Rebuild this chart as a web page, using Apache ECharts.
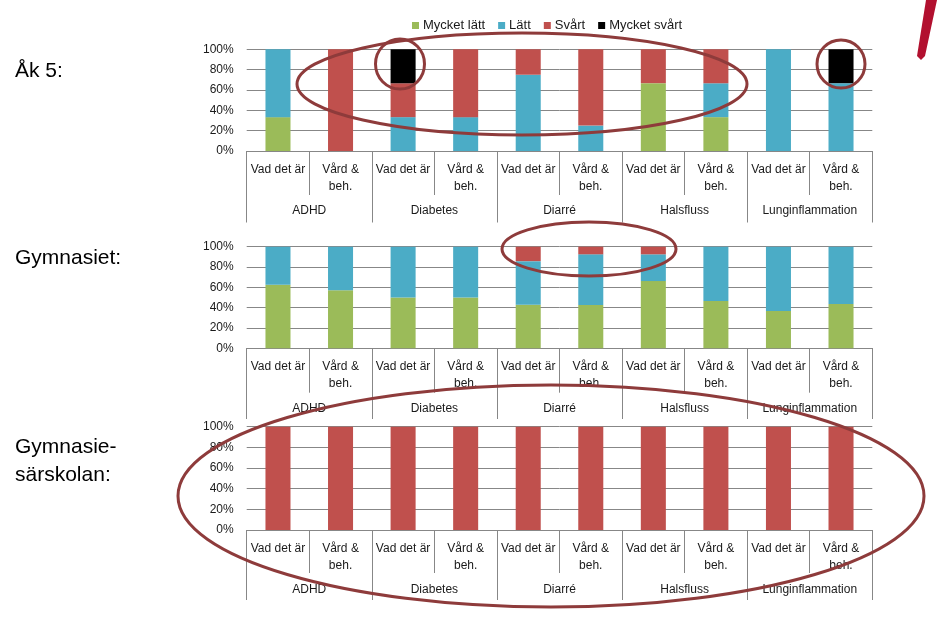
<!DOCTYPE html>
<html>
<head>
<meta charset="utf-8">
<script src="https://cdn.jsdelivr.net/npm/echarts@6/dist/echarts.min.js"></script>
<style>
html,body{margin:0;padding:0;background:#fff;}
#chart{width:940px;height:622px;}
</style>
</head>
<body>
<div id="chart"></div>
<script>
// ---- Data ----
const subCategories = ['Vad det är','Vård &\nbeh.','Vad det är','Vård &\nbeh.','Vad det är','Vård &\nbeh.','Vad det är','Vård &\nbeh.','Vad det är','Vård &\nbeh.'];
const groups = ['ADHD','Diabetes','Diarré','Halsfluss','Lunginflammation'];
const seriesNames = ['Mycket lätt','Lätt','Svårt','Mycket svårt'];
const yTicks = [0,20,40,60,80,100];

// Åk 5
const ak5MycketLatt  = [33.3, 0,    0,    0,    0,  0,  66.7, 33.3, 0,   0];
const ak5Latt        = [66.7, 0,    33.3, 33.3, 75, 25, 0,    33.3, 100, 66.7];
const ak5Svart       = [0,    100,  33.3, 66.7, 25, 75, 33.3, 33.4, 0,   0];
const ak5MycketSvart = [0,    0,    33.4, 0,    0,  0,  0,    0,    0,   33.3];

// Gymnasiet
const gymMycketLatt  = [62.5, 57.1, 50, 50, 42.9, 42.6, 66.2, 46.6, 36.7, 43.6];
const gymLatt        = [37.5, 42.9, 50, 50, 42.9, 49.9, 26.3, 53.4, 63.3, 56.4];
const gymSvart       = [0,    0,    0,  0,  14.2, 7.5,  7.5,  0,    0,    0];
const gymMycketSvart = [0,    0,    0,  0,  0,    0,    0,    0,    0,    0];

// Gymnasiesärskolan
const sarMycketLatt  = [0,0,0,0,0,0,0,0,0,0];
const sarLatt        = [0,0,0,0,0,0,0,0,0,0];
const sarSvart       = [100,100,100,100,100,100,100,100,100,100];
const sarMycketSvart = [0,0,0,0,0,0,0,0,0,0];

const panels = [
  {label:['Åk 5:'], data:[ak5MycketLatt, ak5Latt, ak5Svart, ak5MycketSvart]},
  {label:['Gymnasiet:'], data:[gymMycketLatt, gymLatt, gymSvart, gymMycketSvart]},
  {label:['Gymnasie-','särskolan:'], data:[sarMycketLatt, sarLatt, sarSvart, sarMycketSvart]}
];

// ---- Styling / layout ----
const colors = ['#9BBB59','#4BACC6','#C0504D','#000000'];
const gridGray = '#878787';
const textColor = '#1a1a1a';
const font = '"Liberation Sans", Arial, sans-serif';
const gridBoxes = [
  {top:49.3, height:101.7, subTick:44, groupTick:71.5},
  {top:246.7, height:101.6, subTick:44.4, groupTick:70.7},
  {top:426.7, height:103.3, subTick:43, groupTick:70}
];

const grids = [], xAxes = [], yAxes = [], series = [];
gridBoxes.forEach((g, i) => {
  grids.push({left:246.7, right:67.7, top:g.top, height:g.height, containLabel:false});
  xAxes.push({
    type:'category', gridIndex:i, position:'bottom', data:subCategories,
    boundaryGap:true,
    axisLine:{show:true, lineStyle:{color:gridGray, width:1}},
    axisTick:{show:true, length:g.subTick, interval:0, lineStyle:{color:gridGray, width:1}},
    axisLabel:{interval:0, margin:10, color:textColor, fontFamily:font, fontSize:12, lineHeight:17}
  });
  xAxes.push({
    type:'category', gridIndex:i, position:'bottom', data:groups,
    boundaryGap:true,
    axisLine:{show:false},
    axisTick:{show:true, length:g.groupTick, interval:0, lineStyle:{color:gridGray, width:1}},
    axisLabel:{interval:0, margin:54, color:textColor, fontFamily:font, fontSize:12}
  });
  yAxes.push({
    type:'value', gridIndex:i, min:yTicks[0], max:yTicks[yTicks.length-1], interval:20,
    axisLine:{show:false}, axisTick:{show:false},
    splitLine:{show:true, lineStyle:{color:gridGray, width:1}},
    axisLabel:{formatter:'{value}%', margin:13, color:textColor, fontFamily:font, fontSize:12}
  });
  panels[i].data.forEach((arr, s) => {
    series.push({
      name:seriesNames[s], type:'bar', stack:'stack'+i,
      xAxisIndex:i*2, yAxisIndex:i,
      barWidth:'40%', data:arr,
      itemStyle:{color:colors[s]},
      emphasis:{disabled:true}, animation:false
    });
  });
});

const ann = '#8E3B3B';
const labelFont = 'normal 400 21px "Liberation Sans", Arial, sans-serif';
const graphic = [
  {type:'text', left:15, top:61, style:{text:panels[0].label.join('\n'), font:labelFont, fill:'#000'}},
  {type:'text', left:15, top:248, style:{text:panels[1].label.join('\n'), font:labelFont, fill:'#000'}},
  {type:'text', left:15, top:433, style:{text:panels[2].label.join('\n'), font:labelFont, fill:'#000', lineHeight:28}},
  {type:'ellipse', shape:{cx:522, cy:84, rx:225, ry:51}, style:{fill:'none', stroke:ann, lineWidth:3}, z:100},
  {type:'ellipse', shape:{cx:400, cy:64, rx:24.5, ry:25}, style:{fill:'none', stroke:ann, lineWidth:3}, z:100},
  {type:'ellipse', shape:{cx:841, cy:64, rx:24, ry:24}, style:{fill:'none', stroke:ann, lineWidth:3}, z:100},
  {type:'ellipse', shape:{cx:589, cy:249, rx:87, ry:27}, style:{fill:'none', stroke:ann, lineWidth:3}, z:100},
  {type:'ellipse', shape:{cx:551, cy:496, rx:373, ry:111}, style:{fill:'none', stroke:ann, lineWidth:3}, z:100},
  {type:'polygon', shape:{points:[[926,0],[937,0],[925,56],[921,60],[917,56]]}, style:{fill:'#B2102F'}, z:100}
];

const chart = echarts.init(document.getElementById('chart'), null, {renderer:'canvas'});
chart.setOption({
  animation:false,
  legend:{
    left:407, top:14, itemWidth:7, itemHeight:7, itemGap:13, icon:'rect',
    data:seriesNames,
    textStyle:{color:textColor, fontFamily:font, fontSize:13, padding:[0,0,0,-1]}
  },
  grid:grids, xAxis:xAxes, yAxis:yAxes, series:series, graphic:graphic
});
</script>
</body>
</html>
